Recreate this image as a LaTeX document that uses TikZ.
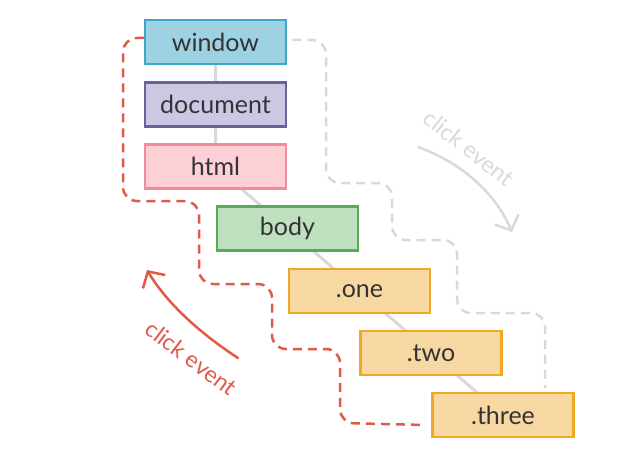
\documentclass[tikz,border=0pt]{standalone}
\usepackage{fontspec}
\setmainfont{Lato}
\usetikzlibrary{arrows.meta,backgrounds}

\definecolor{txt}{HTML}{333333}
\definecolor{winfill}{HTML}{9DD2E3}
\definecolor{windraw}{HTML}{3AA8C8}
\definecolor{docfill}{HTML}{CCC8E4}
\definecolor{docdraw}{HTML}{6B6199}
\definecolor{htmlfill}{HTML}{FDD0D5}
\definecolor{htmldraw}{HTML}{F28D98}
\definecolor{bodyfill}{HTML}{BFE0BF}
\definecolor{bodydraw}{HTML}{58AC58}
\definecolor{clsfill}{HTML}{F7D7A2}
\definecolor{clsdraw}{HTML}{F0A91E}
\definecolor{bubble}{HTML}{E05A47}
\definecolor{capture}{HTML}{D9D9DB}

\begin{document}
\begin{tikzpicture}[x=1pt,y=-1pt]
  \tikzstyle{every node}=[font=\fontsize{25}{30}\selectfont, text=txt]
  \tikzstyle{elem}=[draw, line width=2.5pt, minimum width=141pt, minimum height=44pt, inner sep=0pt]
  \tikzstyle{flow}=[line width=2.5pt, dash pattern=on 9pt off 6pt, rounded corners=14pt]
  \useasboundingbox (0,0) rectangle (630,460);

  \node[elem, fill=winfill, draw=windraw] (window) at (215.5,42) {window};
  \node[elem, fill=docfill, draw=docdraw] (document) at (215.5,104.5) {document};
  \node[elem, fill=htmlfill, draw=htmldraw] (html) at (215.5,166.5) {html};
  \node[elem, fill=bodyfill, draw=bodydraw] (body) at (287.5,228.5) {body};
  \node[elem, fill=clsfill, draw=clsdraw] (one) at (359.5,291) {.one};
  \node[elem, fill=clsfill, draw=clsdraw] (two) at (431,353) {.two};
  \node[elem, fill=clsfill, draw=clsdraw] (three) at (503,415) {.three};

  \begin{scope}[on background layer]
    \draw[capture, line width=3pt] (window.center) -- (html.center) -- (three.center);
  \end{scope}

  % bubbling up
  \draw[flow, bubble] ([yshift=4pt]window.west) -| (123,201) -| (199,284)
    -| (272,349) -| (340,423) -- ([xshift=-6pt,yshift=-10pt]three.west);
  % capturing down
  \draw[flow, capture] ([xshift=5pt,yshift=2pt]window.east) -| (326,183) -| (392,240)
    -| (457,313) -| ([xshift=42pt,yshift=4pt]three.north);

  \node[text=bubble, rotate=-37, font=\fontsize{23}{28}\selectfont] (uplabel) at (191,358) {click event};
  \node[text=capture, rotate=-38, font=\fontsize{23}{28}\selectfont] (downlabel) at (469,148) {click event};
  \coordinate (upstart) at (238,358);
  \coordinate (upend) at (147,270);
  \coordinate (downstart) at (418,147);
  \coordinate (downend) at (512,232);
  \draw[bubble, line width=2.5pt, line cap=round, -{Straight Barb[length=12pt,width=26pt]}]
    (upstart) .. controls (195,330) and (165,300) .. (upend);
  \draw[capture, line width=2.5pt, line cap=round, -{Straight Barb[length=12pt,width=26pt]}]
    (downstart) .. controls (460,162) and (495,192) .. (downend);
\end{tikzpicture}
\end{document}
